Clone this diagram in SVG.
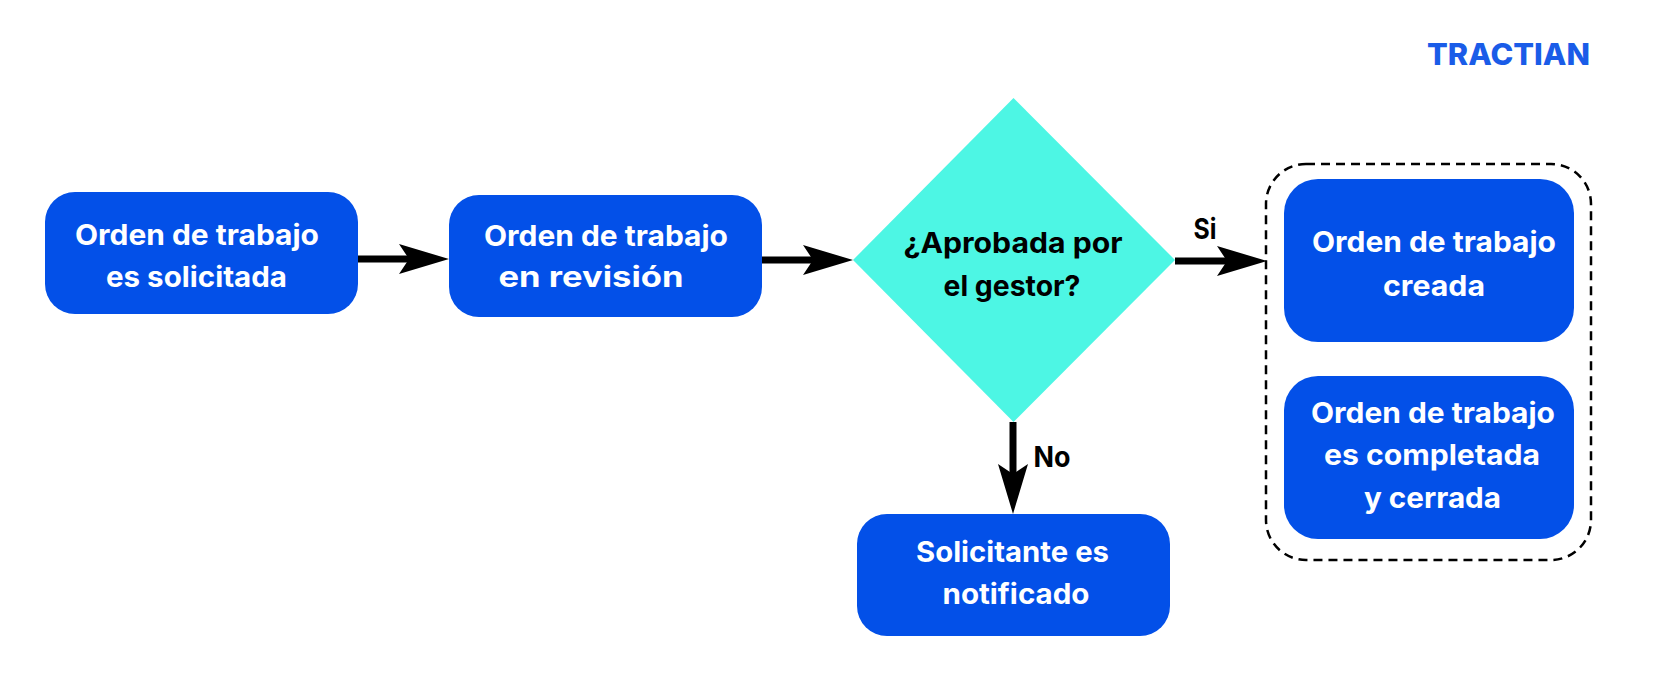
<svg xmlns="http://www.w3.org/2000/svg" width="1655" height="686" viewBox="0 0 1655 686">
<style>
.box{fill:#0350e8}
.t{font-family:"Inter","Liberation Sans",sans-serif;font-weight:700;font-size:28.500px;text-anchor:middle}
.w{fill:#fff}
.k{fill:#000}
.c{stroke:#000;stroke-width:7;fill:none}
</style>
<defs>
<marker id="a" markerUnits="userSpaceOnUse" markerWidth="50" markerHeight="32" refX="30" refY="16" orient="auto"><path d="M0 1L50 16L0 31L10 16Z" fill="#000"/></marker>
</defs>
<rect width="1655" height="686" fill="#fff"/>
<g id="connectors">
<path class="c" d="M358 259H429" marker-end="url(#a)"/>
<path class="c" d="M762 260H833" marker-end="url(#a)"/>
<path class="c" d="M1175 261H1247" marker-end="url(#a)"/>
<path class="c" d="M1013 422V494" marker-end="url(#a)"/>
</g>
<g id="n1"><rect class="box" x="45" y="192" width="313" height="122" rx="30"/><text class="t w" x="197" y="245" textLength="244" lengthAdjust="spacingAndGlyphs">Orden de trabajo</text><text class="t w" x="196.500" y="287" textLength="181" lengthAdjust="spacingAndGlyphs">es solicitada</text></g>
<g id="n2"><rect class="box" x="449" y="195" width="313" height="122" rx="30"/><text class="t w" x="606" y="246" textLength="244" lengthAdjust="spacingAndGlyphs">Orden de trabajo</text><text class="t w" x="591" y="287" textLength="185" lengthAdjust="spacingAndGlyphs">en revisión</text></g>
<g id="n3"><path d="M1013.500 98L1175 260L1013.500 422L853 260Z" fill="#4df6e4"/><text class="t k" x="1013" y="253" textLength="219" lengthAdjust="spacingAndGlyphs">¿Aprobada por</text><text class="t k" x="1012" y="296" textLength="137" lengthAdjust="spacingAndGlyphs">el gestor?</text></g>
<g id="n4"><rect class="box" x="857" y="514" width="313" height="122" rx="30"/><text class="t w" x="1012.500" y="562" textLength="193" lengthAdjust="spacingAndGlyphs">Solicitante es</text><text class="t w" x="1016" y="604" textLength="147" lengthAdjust="spacingAndGlyphs">notificado</text></g>
<g id="group"><rect x="1266" y="164" width="325" height="396" rx="40" fill="none" stroke="#000" stroke-width="2.500" stroke-dasharray="9 6"/></g>
<g id="n5"><rect class="box" x="1284" y="179" width="290" height="163" rx="34"/><text class="t w" x="1434" y="252" textLength="244" lengthAdjust="spacingAndGlyphs">Orden de trabajo</text><text class="t w" x="1434" y="296" textLength="102" lengthAdjust="spacingAndGlyphs">creada</text></g>
<g id="n6"><rect class="box" x="1284" y="376" width="290" height="163" rx="34"/><text class="t w" x="1433" y="423" textLength="244" lengthAdjust="spacingAndGlyphs">Orden de trabajo</text><text class="t w" x="1432" y="465" textLength="216" lengthAdjust="spacingAndGlyphs">es completada</text><text class="t w" x="1432.500" y="508" textLength="137" lengthAdjust="spacingAndGlyphs">y cerrada</text></g>
<text class="t k" x="1205" y="239" textLength="23" lengthAdjust="spacingAndGlyphs">Si</text>
<text class="t k" x="1052" y="467" textLength="37" lengthAdjust="spacingAndGlyphs">No</text>
<text id="logo" x="1427" y="65" font-family="Inter,'Liberation Sans',sans-serif" font-weight="800" font-size="30" fill="#1a5ce8" textLength="163" lengthAdjust="spacingAndGlyphs">TRACTIAN</text>
</svg>
